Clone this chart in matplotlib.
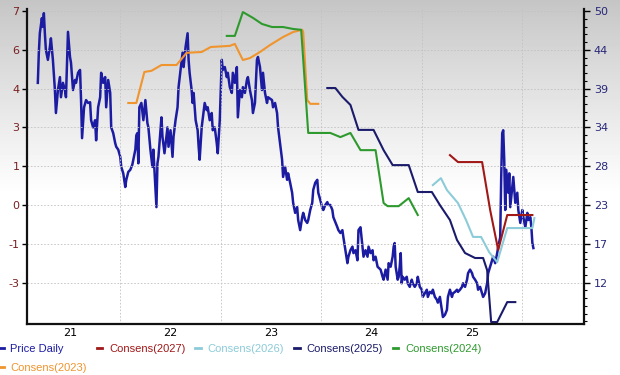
import matplotlib
matplotlib.use("Agg")
import matplotlib.pyplot as plt
import numpy as np
from matplotlib.ticker import FixedLocator, FuncFormatter, AutoMinorLocator, NullFormatter

# daily price (right axis), time as decimal year
price_t = [
    2020.68, 2020.69, 2020.70, 2020.72, 2020.73, 2020.74, 2020.75, 2020.76, 2020.78, 2020.80,
    2020.81, 2020.83, 2020.85, 2020.86, 2020.88, 2020.90, 2020.91, 2020.93, 2020.95, 2020.96,
    2020.98, 2021.00, 2021.01, 2021.03, 2021.05, 2021.06, 2021.08, 2021.10, 2021.11, 2021.12,
    2021.14, 2021.16, 2021.18, 2021.20, 2021.21, 2021.23, 2021.25, 2021.26, 2021.28, 2021.30,
    2021.31, 2021.33, 2021.35, 2021.36, 2021.38, 2021.40, 2021.41, 2021.43, 2021.45, 2021.46,
    2021.48, 2021.50, 2021.51, 2021.53, 2021.55, 2021.56, 2021.58, 2021.60, 2021.62, 2021.65,
    2021.66, 2021.67, 2021.68, 2021.69, 2021.71, 2021.73, 2021.75, 2021.77, 2021.78, 2021.80,
    2021.82, 2021.83, 2021.84, 2021.86, 2021.87, 2021.88, 2021.91, 2021.92, 2021.94, 2021.97,
    2021.98, 2022.00, 2022.02, 2022.03, 2022.05, 2022.07, 2022.08, 2022.10, 2022.12, 2022.13,
    2022.15, 2022.17, 2022.18, 2022.19, 2022.21, 2022.22, 2022.23, 2022.25, 2022.27, 2022.28,
    2022.29, 2022.31, 2022.34, 2022.36, 2022.37, 2022.39, 2022.41, 2022.42, 2022.44, 2022.46,
    2022.47, 2022.49, 2022.51, 2022.52, 2022.54, 2022.56, 2022.57, 2022.59, 2022.61, 2022.62,
    2022.64, 2022.66, 2022.67, 2022.69, 2022.71, 2022.72, 2022.74, 2022.76, 2022.77, 2022.79,
    2022.81, 2022.82, 2022.84, 2022.86, 2022.87, 2022.89, 2022.91, 2022.92, 2022.94, 2022.96,
    2022.97, 2023.01, 2023.02, 2023.04, 2023.06, 2023.07, 2023.09, 2023.11, 2023.12, 2023.14,
    2023.16, 2023.17, 2023.19, 2023.21, 2023.22, 2023.24, 2023.26, 2023.27, 2023.29, 2023.31,
    2023.32, 2023.34, 2023.36, 2023.37, 2023.39, 2023.41, 2023.42, 2023.44, 2023.46, 2023.47,
    2023.49, 2023.51, 2023.52, 2023.54, 2023.56, 2023.57, 2023.59, 2023.61, 2023.62, 2023.64,
    2023.66, 2023.67, 2023.69, 2023.71, 2023.72, 2023.74, 2023.76, 2023.77, 2023.79, 2023.81,
    2023.82, 2023.84, 2023.86, 2023.87, 2023.89, 2023.91, 2023.92, 2023.94, 2023.96, 2023.97,
    2023.99, 2024.01, 2024.02, 2024.04, 2024.06, 2024.09, 2024.11, 2024.12, 2024.14, 2024.16,
    2024.17, 2024.19, 2024.21, 2024.22, 2024.23, 2024.24, 2024.26, 2024.27, 2024.28, 2024.29,
    2024.30, 2024.31, 2024.33, 2024.35, 2024.36, 2024.38, 2024.40, 2024.41, 2024.43, 2024.45,
    2024.46, 2024.48, 2024.50, 2024.51, 2024.53, 2024.55, 2024.56, 2024.58, 2024.60, 2024.61,
    2024.63, 2024.65, 2024.66, 2024.68, 2024.70, 2024.71, 2024.73, 2024.75, 2024.76, 2024.78,
    2024.80, 2024.81, 2024.83, 2024.85, 2024.86, 2024.88, 2024.90, 2024.91, 2024.93, 2024.95,
    2024.96, 2024.98, 2025.00, 2025.01, 2025.03, 2025.05, 2025.06, 2025.08, 2025.10, 2025.11,
    2025.13, 2025.15, 2025.16, 2025.18, 2025.20, 2025.21, 2025.23, 2025.25, 2025.26, 2025.28,
    2025.29, 2025.30, 2025.31, 2025.32, 2025.33, 2025.34, 2025.36, 2025.37, 2025.38, 2025.40,
    2025.41, 2025.43, 2025.45, 2025.46, 2025.48, 2025.50, 2025.51, 2025.53, 2025.55, 2025.56,
    2025.58, 2025.59, 2025.60, 2025.61,
]
price = [
    39.8, 44.0, 46.7, 48.8, 47.6, 49.5, 46.7, 44.4, 43.0, 44.8,
    46.0, 43.0, 38.8, 35.6, 38.8, 40.6, 37.8, 39.8, 38.8, 37.8,
    46.9, 43.4, 42.6, 38.8, 40.2, 39.8, 41.2, 41.6, 37.4, 32.1,
    36.4, 37.4, 37.0, 37.1, 34.6, 33.6, 34.6, 31.8, 36.4, 37.8,
    41.2, 39.8, 40.6, 36.4, 40.2, 38.4, 33.6, 32.8, 31.4, 30.9,
    30.5, 29.5, 28.1, 27.2, 25.3, 26.3, 27.4, 27.7, 28.4, 30.5,
    32.5, 32.8, 28.6, 36.4, 37.0, 34.6, 37.4, 34.2, 33.6, 30.5,
    28.1, 30.5, 27.7, 22.5, 28.6, 29.5, 35.0, 32.3, 30.0, 33.6,
    30.9, 33.2, 29.5, 32.3, 34.6, 36.4, 39.2, 41.6, 44.0, 42.0,
    44.8, 46.7, 43.0, 41.2, 38.8, 37.0, 38.4, 34.6, 33.2, 30.9,
    29.1, 33.6, 37.0, 36.0, 36.4, 34.6, 35.6, 33.2, 33.6, 31.4,
    30.0, 34.6, 43.0, 41.6, 42.0, 40.6, 41.2, 39.2, 38.4, 41.2,
    39.8, 42.0, 35.0, 38.8, 37.8, 39.2, 38.4, 40.2, 40.6, 38.8,
    37.4, 35.6, 37.0, 43.0, 43.4, 42.0, 38.8, 41.2, 38.4, 37.0,
    37.8, 37.4, 36.4, 37.0, 35.6, 33.6, 31.4, 29.1, 26.7, 28.1,
    26.3, 27.2, 25.9, 24.5, 23.1, 21.7, 22.5, 20.7, 19.3, 21.1,
    21.7, 20.7, 20.3, 20.7, 22.1, 23.1, 24.9, 25.9, 26.3, 24.5,
    23.5, 22.4, 22.1, 22.8, 23.2, 22.8, 22.8, 22.1, 21.1, 20.4,
    19.7, 19.3, 18.9, 19.3, 18.3, 16.5, 14.7, 15.6, 16.5, 17.0,
    16.1, 16.5, 15.1, 19.3, 19.7, 17.0, 15.6, 16.5, 15.6, 17.0,
    16.1, 16.5, 15.1, 15.6, 14.2, 13.8, 12.8, 12.4, 13.8, 12.4,
    14.7, 14.2, 15.6, 17.0, 17.5, 14.2, 12.4, 12.8, 14.2, 16.1,
    11.9, 12.8, 12.4, 12.8, 11.9, 11.4, 12.4, 11.9, 11.4, 11.9,
    12.8, 11.4, 11.0, 10.0, 10.5, 11.0, 10.0, 10.7, 10.5, 11.0,
    10.0, 9.6, 9.2, 10.0, 8.2, 7.2, 7.5, 8.2, 10.0, 11.0,
    10.0, 10.5, 10.7, 11.0, 10.7, 11.0, 11.4, 11.9, 11.4, 12.4,
    13.3, 13.8, 13.3, 12.8, 12.4, 11.9, 11.0, 11.4, 10.5, 10.0,
    10.5, 11.9, 13.3, 14.2, 15.1, 15.6, 14.7, 16.1, 17.0, 18.3,
    26.7, 32.8, 33.2, 29.1, 22.1, 27.7, 24.5, 27.2, 22.5, 25.3,
    26.7, 23.1, 24.5, 22.1, 20.3, 22.1, 21.1, 19.7, 21.7, 20.7,
    21.1, 19.7, 17.5, 16.8,
]

# consensus estimates (left axis)
c2023_t = [2021.58, 2021.66, 2021.74, 2021.81, 2021.91, 2022.06, 2022.16, 2022.31, 2022.40, 2022.59, 2022.64,
           2022.72, 2022.79, 2022.89, 2022.99, 2023.12, 2023.22, 2023.31, 2023.32, 2023.36, 2023.39, 2023.47]
c2023 = [3.68, 3.68, 4.80, 4.84, 5.05, 5.05, 5.49, 5.52, 5.70, 5.74, 5.81,
         5.23, 5.30, 5.52, 5.77, 6.06, 6.24, 6.32, 6.24, 3.79, 3.65, 3.65]

c2024_t = [2022.56, 2022.64, 2022.72, 2022.82, 2022.91, 2023.01, 2023.12, 2023.22, 2023.30, 2023.37,
           2023.59, 2023.69, 2023.79, 2023.89, 2024.04, 2024.12, 2024.16, 2024.27, 2024.37, 2024.46]
c2024 = [6.10, 6.10, 6.96, 6.75, 6.53, 6.42, 6.42, 6.35, 6.32, 2.60,
         2.60, 2.45, 2.60, 1.98, 1.98, 0.07, -0.04, -0.04, 0.25, -0.36]

c2025_t = [2023.56, 2023.64, 2023.71, 2023.79, 2023.87, 2024.02, 2024.12, 2024.21, 2024.37, 2024.46, 2024.60,
           2024.68, 2024.78, 2024.85, 2024.93, 2025.03, 2025.11, 2025.15, 2025.19, 2025.25, 2025.35, 2025.43]
c2025 = [4.22, 4.22, 3.90, 3.61, 2.71, 2.71, 1.98, 1.44, 1.44, 0.47, 0.47,
         0.00, -0.54, -1.26, -1.73, -1.91, -1.91, -2.35, -4.22, -4.22, -3.50, -3.50]

c2026_t = [2024.61, 2024.69, 2024.75, 2024.86, 2024.94, 2025.01, 2025.09, 2025.17, 2025.25, 2025.35, 2025.60, 2025.62]
c2026 = [0.72, 0.97, 0.54, 0.07, -0.54, -1.15, -1.15, -1.70, -2.06, -0.83, -0.83, -0.47]

c2027_t = [2024.78, 2024.86, 2025.10, 2025.18, 2025.26, 2025.35, 2025.60]
c2027 = [1.80, 1.55, 1.55, -0.18, -1.62, -0.36, -0.36]

years = [2021, 2022, 2023, 2024, 2025]

fig = plt.figure(figsize=(6.2, 3.75), dpi=100)

# grey-to-white background
bg = fig.add_axes([0, 0, 1, 1], zorder=-5)
shade = np.clip(np.linspace(0, 1, 375) / 0.52, 0, 1) ** 0.9
shade = 0.77 + 0.23 * shade
bg.imshow(shade[:, None], cmap="gray", vmin=0, vmax=1, aspect="auto", extent=[0, 1, 0, 1])
bg.axis("off")

ax = fig.add_axes([0.0435, 0.136, 0.8985, 0.84])
ax2 = ax.twinx()
ax.set_zorder(2)
ax2.set_zorder(1)
ax.patch.set_visible(False)
ax2.patch.set_visible(False)

lp, = ax2.plot(price_t, price, color="#1c1ca3", lw=1.8, label="Price Daily")
l23, = ax.plot(c2023_t, c2023, color="#f0942e", lw=1.5, label="Consens(2023)")
l24, = ax.plot(c2024_t, c2024, color="#2e9a2e", lw=1.5, label="Consens(2024)")
l25, = ax.plot(c2025_t, c2025, color="#1b1b6b", lw=1.5, label="Consens(2025)")
l26, = ax.plot(c2026_t, c2026, color="#8ccbd8", lw=1.5, label="Consens(2026)")
l27, = ax.plot(c2027_t, c2027, color="#a01818", lw=1.5, label="Consens(2027)")

ax.set_xlim(2020.572, 2026.114)
ax.set_ylim(-4.29, 7.07)
ax2.set_ylim(6.23, 50.08)

rnd = FuncFormatter(lambda v, p: "%d" % int(round(v)))

ax.yaxis.set_major_locator(FixedLocator([7 - 1.4 * k for k in range(8)]))
ax.yaxis.set_major_formatter(rnd)
ax2.yaxis.set_major_locator(FixedLocator([49.8 - 5.4 * k for k in range(8)]))
ax2.yaxis.set_major_formatter(rnd)
ax2.yaxis.set_minor_locator(AutoMinorLocator(5))

ax.xaxis.set_major_locator(FixedLocator([y + 0.5 for y in years]))
ax.xaxis.set_major_formatter(NullFormatter())
ax.xaxis.set_minor_locator(FixedLocator(years))
ax.xaxis.set_minor_formatter(FuncFormatter(lambda v, p: "%d" % (int(round(v)) % 100)))
ax.tick_params(axis="x", which="both", length=0, labelsize=8, pad=3)

ax.tick_params(axis="y", direction="out", length=3.5, width=1, labelsize=8,
               labelcolor="#7a1f1f", pad=2)
ax2.tick_params(axis="y", which="major", direction="out", length=4, width=1,
                labelsize=8, labelcolor="#28287a", pad=3)
ax2.tick_params(axis="y", which="minor", direction="out", length=2.5, width=0.8)

ax.grid(axis="y", color="#c2c2c2", ls=(0, (2, 2)), lw=0.6)
ax.grid(axis="x", which="major", color="#c2c2c2", ls=(0, (2, 2)), lw=0.6)

for s in ["top", "right"]:
    ax.spines[s].set_visible(False)
for s in ["top", "left", "bottom"]:
    ax2.spines[s].set_visible(False)
for sp in [ax.spines["left"], ax.spines["bottom"], ax2.spines["right"]]:
    sp.set_linewidth(1.6)
    sp.set_color("#111111")

handles = [lp, l23, l27, l26, l25, l24]
leg = fig.legend(handles, [h.get_label() for h in handles], loc="upper left",
                 bbox_to_anchor=(-0.003, 0.082), ncol=5, frameon=False,
                 prop={"family": "Liberation Sans", "size": 8},
                 handlelength=0.5, handletextpad=0.6, columnspacing=0.9,
                 labelspacing=0.8, borderpad=0, borderaxespad=0)
for txt, h in zip(leg.get_texts(), handles):
    txt.set_color(h.get_color())
for lh in leg.legend_handles:
    lh.set_linewidth(2)

fig.savefig("out.png", dpi=100)
